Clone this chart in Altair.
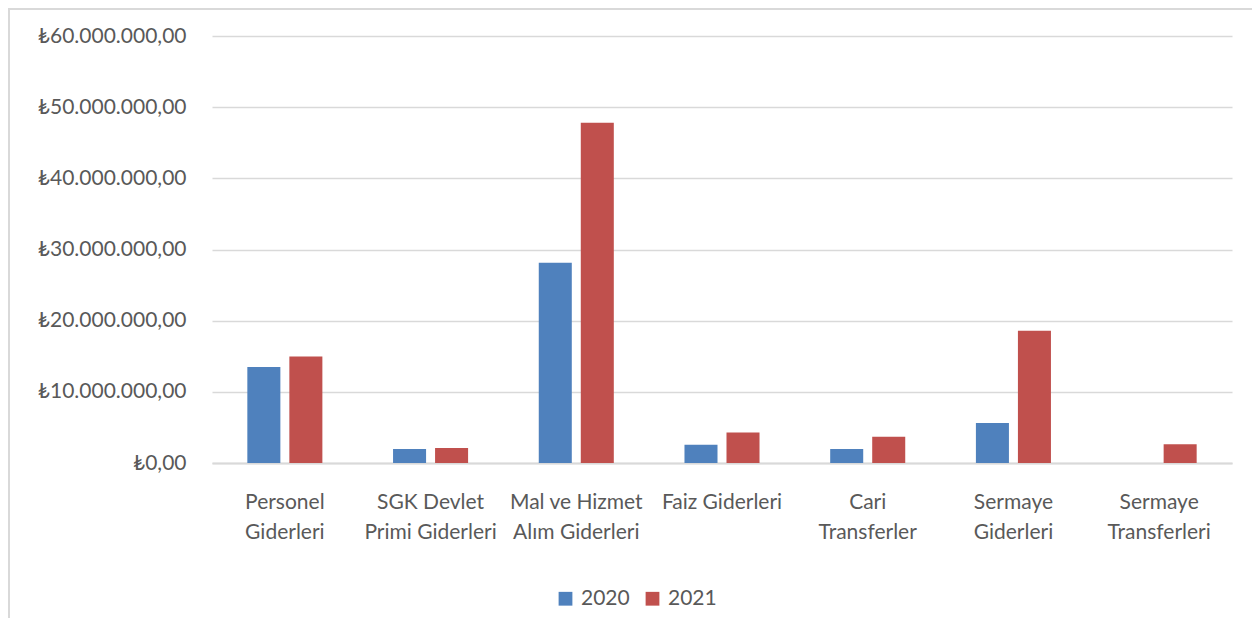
import altair as alt
import pandas as pd

categories = ["Personel Giderleri", "SGK Devlet Primi Giderleri", "Mal ve Hizmet Alım Giderleri",
              "Faiz Giderleri", "Cari Transferler", "Sermaye Giderleri", "Sermaye Transferleri"]
label_lines = [["Personel", "Giderleri"], ["SGK Devlet", "Primi Giderleri"], ["Mal ve Hizmet", "Alım Giderleri"],
               ["Faiz Giderleri"], ["Cari", "Transferler"], ["Sermaye", "Giderleri"], ["Sermaye", "Transferleri"]]
series = ["2020", "2021"]
values_2020 = [13500000, 1970000, 28150000, 2570000, 1970000, 5620000, 0]
values_2021 = [14980000, 2100000, 47800000, 4300000, 3700000, 18600000, 2620000]
y_ticks = [0, 10000000, 20000000, 30000000, 40000000, 50000000, 60000000]
colors = ["#4F81BD", "#C0504D"]

rows = []
for c, v1, v2 in zip(categories, values_2020, values_2021):
    rows.append({"kategori": c, "yil": "2020", "tutar": v1})
    rows.append({"kategori": c, "yil": "2021", "tutar": v2})
df = pd.DataFrame(rows)

label_map = "{" + ",".join('"%s": [%s]' % (c, ",".join('"%s"' % s for s in l)) for c, l in zip(categories, label_lines)) + "}"

FONT = "Lato"
TXT = "#595959"
FS = 21

bars = alt.Chart(df).mark_bar().encode(
    x=alt.X("kategori:N", sort=categories, title=None,
            scale=alt.Scale(paddingInner=0.485, paddingOuter=0.2425),
            axis=alt.Axis(labelExpr=label_map + "[datum.value]", labelAngle=0, labelFont=FONT,
                          labelFontSize=FS, labelColor=TXT, labelLineHeight=30, labelPadding=28,
                          ticks=False, domainColor="#D9D9D9", domainWidth=2, labelBaseline="top")),
    xOffset=alt.XOffset("yil:N", sort=series, scale=alt.Scale(paddingInner=0.214, paddingOuter=0)),
    y=alt.Y("tutar:Q", title=None,
            scale=alt.Scale(domain=[0, 60000000], nice=False),
            axis=alt.Axis(values=y_ticks, format="$,.2f", labelFont=FONT, labelFontSize=FS,
                          labelColor=TXT, labelPadding=26, ticks=False, domain=False,
                          gridColor="#D9D9D9", gridWidth=1.5)),
    color=alt.Color("yil:N", sort=series, scale=alt.Scale(domain=series, range=colors),
                    legend=alt.Legend(title=None, orient="none", legendX=343, legendY=552,
                                      direction="horizontal", symbolType="square", symbolSize=190,
                                      symbolStrokeWidth=0, labelFont=FONT, labelFontSize=FS,
                                      labelColor=TXT, columnPadding=12, labelOffset=5)),
)

frame = alt.Chart(pd.DataFrame({"f": [0]})).mark_rect(fill=None, stroke="#D9D9D9", strokeWidth=2).encode(
    x=alt.value(-203), x2=alt.value(1047), y=alt.value(-27), y2=alt.value(640)
)

chart = alt.layer(frame, bars).properties(
    width=1020, height=427,
    autosize=alt.AutoSizeParams(type="none"),
    padding={"left": 204, "top": 28, "right": 20, "bottom": 155},
).configure(
    locale={"number": {"decimal": ",", "thousands": ".", "grouping": [3], "currency": ["₺", ""]}},
    view=alt.ViewConfig(stroke=None),
)

chart.save("out.html", embed_options={"renderer": "svg", "actions": False})
